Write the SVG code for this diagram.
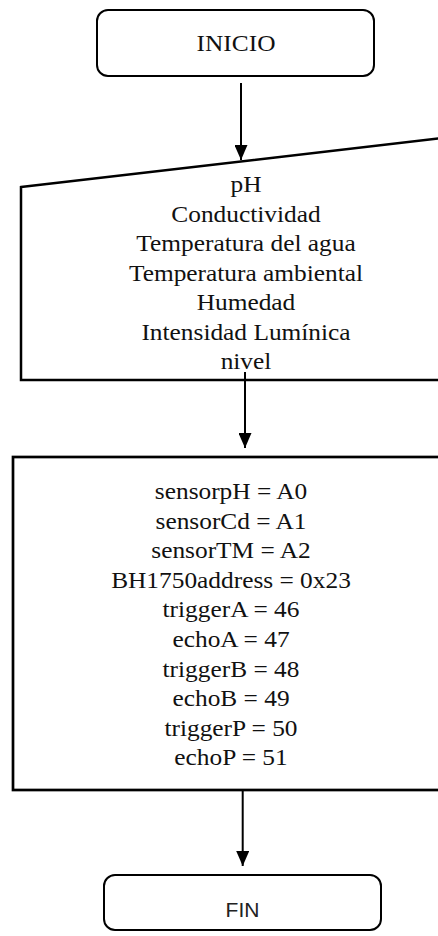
<svg xmlns="http://www.w3.org/2000/svg" width="438" height="936" viewBox="0 0 438 936">
<defs>
<style>
.shape{fill:#fff;stroke:#000;}
.serif{font-family:"Liberation Serif","Times New Roman",serif;font-size:23.5px;fill:#111;text-anchor:middle;}
.sans{font-family:"Liberation Sans","DejaVu Sans",sans-serif;font-size:21px;fill:#222;text-anchor:middle;}
</style>
<marker id="head" markerWidth="15" markerHeight="13" refX="15" refY="6.5" orient="auto" markerUnits="userSpaceOnUse">
<path d="M0,0 L15,6.5 L0,13 Z" fill="#000"/>
</marker>
</defs>
<g id="inicio">
<rect class="shape" x="97" y="10" width="277" height="66" rx="11" stroke-width="2"/>
<g transform="translate(236,51) scale(1.08,1)"><text class="serif" x="0" y="0">INICIO</text></g>
</g>
<g id="entrada">
<polygon class="shape" points="21,187 460,136 460,380 21,380" stroke-width="2.5"/>
<g transform="translate(246,0) scale(1.08,1)">
<text class="serif" x="0" y="192.5">pH</text>
<text class="serif" x="0" y="222">Conductividad</text>
<text class="serif" x="0" y="251.5">Temperatura del agua</text>
<text class="serif" x="0" y="281">Temperatura ambiental</text>
<text class="serif" x="0" y="310.5">Humedad</text>
<text class="serif" x="0" y="340">Intensidad Lumínica</text>
<text class="serif" x="0" y="369.5">nivel</text>
</g>
</g>
<g id="variables">
<rect class="shape" x="13" y="457" width="450" height="333" stroke-width="2.7"/>
<g transform="translate(231,0) scale(1.08,1)">
<text class="serif" x="0" y="499">sensorpH = A0</text>
<text class="serif" x="0" y="528.6">sensorCd = A1</text>
<text class="serif" x="0" y="558.2">sensorTM = A2</text>
<text class="serif" x="0" y="587.8">BH1750address = 0x23</text>
<text class="serif" x="0" y="617.4">triggerA = 46</text>
<text class="serif" x="0" y="647">echoA = 47</text>
<text class="serif" x="0" y="676.6">triggerB = 48</text>
<text class="serif" x="0" y="706.2">echoB = 49</text>
<text class="serif" x="0" y="735.8">triggerP = 50</text>
<text class="serif" x="0" y="765.4">echoP = 51</text>
</g>
</g>
<g id="fin">
<rect class="shape" x="104" y="875" width="277" height="55" rx="11" stroke-width="2"/>
<text class="sans" x="242.5" y="917">FIN</text>
</g>
<g id="connectors" stroke="#000" stroke-width="2" fill="none">
<line x1="241" y1="83" x2="241" y2="160" marker-end="url(#head)"/>
<line x1="245" y1="372" x2="245" y2="448" marker-end="url(#head)"/>
<line x1="242.7" y1="790" x2="242.7" y2="866" marker-end="url(#head)"/>
</g>
</svg>
